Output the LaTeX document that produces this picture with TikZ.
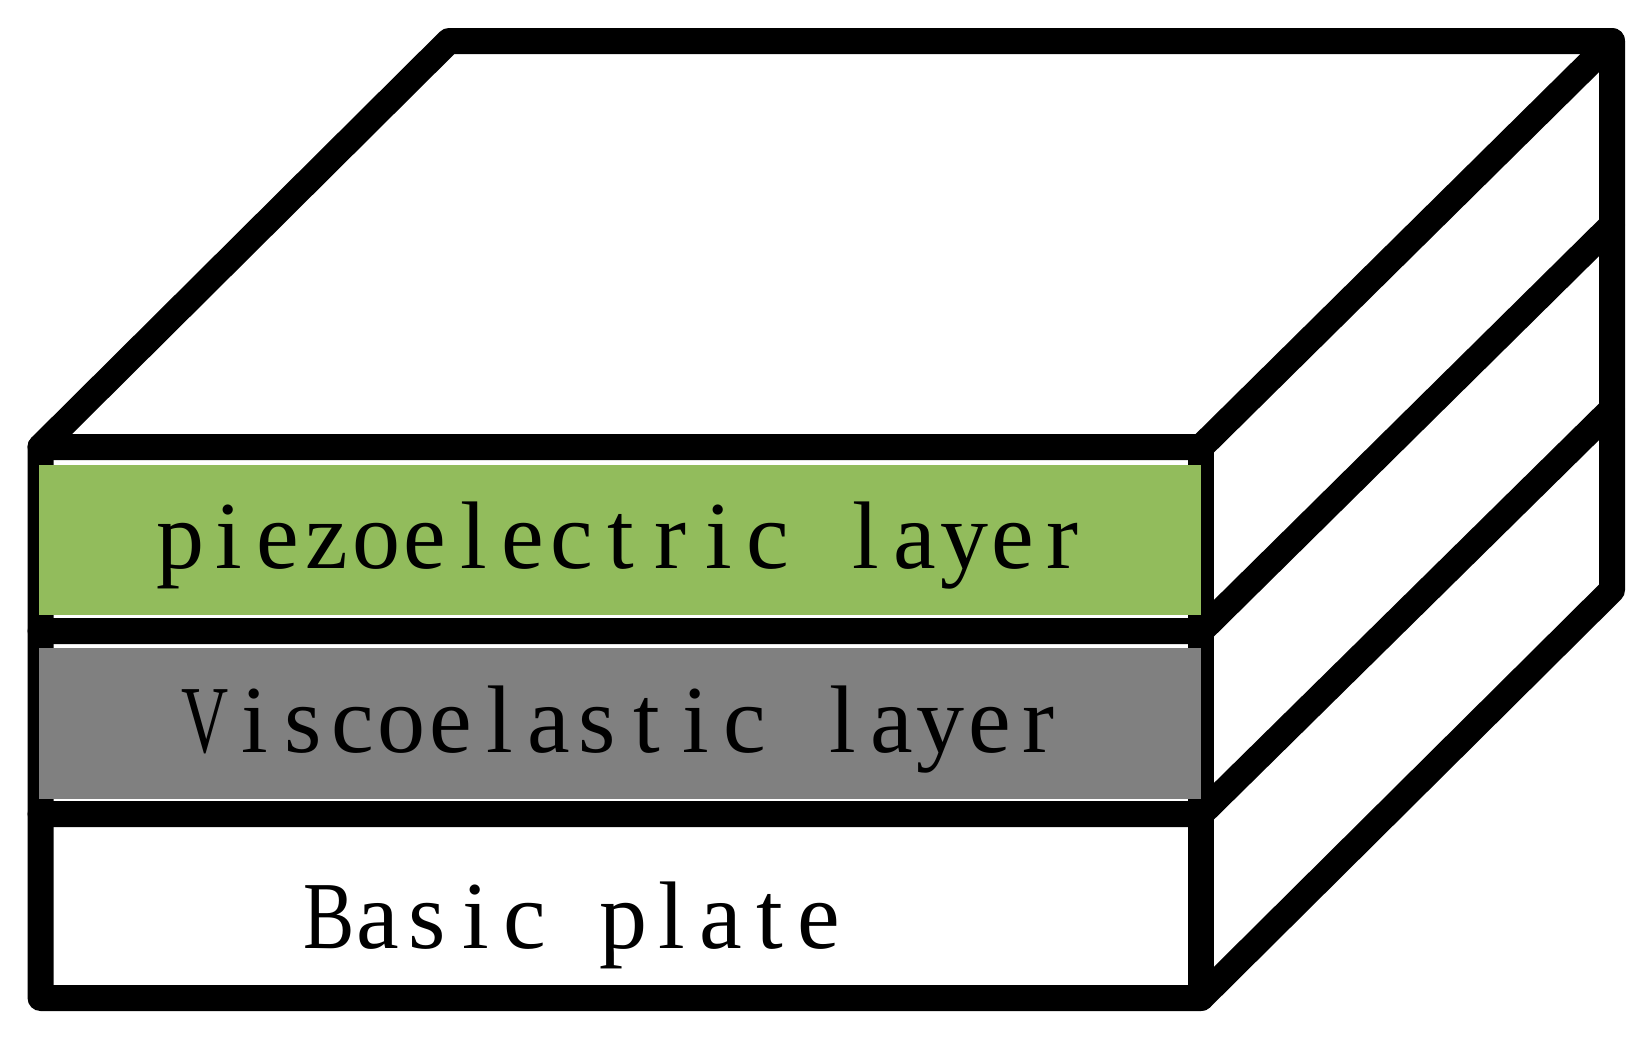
\documentclass[tikz,border=0pt]{standalone}
\usepackage{fontspec}
\setmainfont{Liberation Serif}
\newcommand\narrowch[2]{\scalebox{#1}[1]{#2}}
\def\monotext#1{\monostep#1\relax}
\def\monostep#1{\ifx#1\relax\else\makebox[49pt][c]{#1}\expandafter\monostep\fi}
\tikzset{
  edge/.style={draw=black,line width=26pt,line join=round,line cap=round},
  layerfill/.style={draw=none},
  lab/.style={inner sep=0pt,anchor=base,text=black,font=\fontsize{96pt}{96pt}\selectfont}
}
\definecolor{piezo}{HTML}{92BC5C}
\definecolor{visco}{HTML}{808080}
\begin{document}
\begin{tikzpicture}[x=1pt,y=-1pt]
\useasboundingbox (0,0) rectangle (1646,1036);
\coordinate (ftl) at (40.5,447);
\coordinate (ftr) at (1201,447);
\coordinate (fm1l) at (40.5,631);
\coordinate (fm1r) at (1201,631);
\coordinate (fm2l) at (40.5,814);
\coordinate (fm2r) at (1201,814);
\coordinate (fbl) at (40.5,998);
\coordinate (fbr) at (1201,998);
\coordinate (btl) at (449,41);
\coordinate (btr) at (1612,41);
\coordinate (bm1) at (1612,225);
\coordinate (bm2) at (1612,409);
\coordinate (bbr) at (1612,590);
\draw[edge] (ftl) -- (btl) -- (btr) -- (bbr) -- (fbr) -- (fbl) -- cycle;
\draw[edge] (ftl) -- (ftr) -- (btr);
\draw[edge] (ftr) -- (fbr);
\draw[edge] (fm1l) -- (fm1r) -- (bm1);
\draw[edge] (fm2l) -- (fm2r) -- (bm2);
\fill[piezo,layerfill] (39,465) rectangle (1201,615);
\fill[visco,layerfill] (39,648) rectangle (1201,799);
\node[lab] (piezotext) at (621,568) {\monotext{piezoelectric~layer}};
\node[lab] (viscotext) at (622,752) {\monotext{{\narrowch{0.68}{V}}iscoelastic~layer}};
\node[lab] (basetext) at (574,948) {\monotext{{\narrowch{0.8}{B}}asic~plate}};
\end{tikzpicture}
\end{document}
